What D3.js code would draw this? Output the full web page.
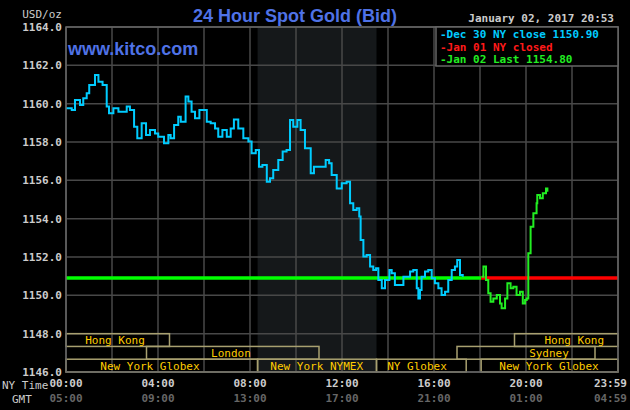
<!DOCTYPE html>
<html><head><meta charset="utf-8">
<script src="https://cdn.jsdelivr.net/npm/d3@7"></script>
<style>
body{margin:0;background:#000;}
text{font-family:"DejaVu Sans Mono",monospace;}
</style></head>
<body><div id="chart"></div>
<script>
// blue: Dec 30 trace (hour, price)
const blueHours = [0.0,0.25,0.39,0.61,0.75,0.90,1.01,1.12,1.26,1.41,1.59,1.77,1.87,2.06,2.28,2.49,2.64,2.78,2.96,3.10,3.29,3.48,3.65,3.87,4.01,4.26,4.45,4.55,4.70,4.88,4.99,5.20,5.32,5.46,5.61,5.80,6.12,6.29,6.48,6.62,6.80,6.99,7.16,7.30,7.49,7.71,7.93,8.07,8.25,8.39,8.54,8.73,8.87,9.01,9.23,9.42,9.59,9.74,9.88,10.06,10.20,10.39,10.54,10.64,10.78,11.04,11.29,11.44,11.55,11.77,11.99,12.20,12.35,12.49,12.64,12.75,12.81,12.93,13.07,13.22,13.36,13.48,13.58,13.73,13.87,14.06,14.16,14.30,14.52,14.67,14.81,14.96,15.10,15.25,15.32,15.39,15.46,15.61,15.75,15.90,16.04,16.19,16.33,16.48,16.62,16.77,16.91,17.01,17.13,17.25];
const bluePrices = [1159.76,1159.67,1160.19,1159.93,1160.28,1160.54,1160.98,1160.98,1161.50,1161.15,1160.98,1159.85,1159.50,1159.76,1159.58,1159.58,1159.85,1159.67,1158.80,1158.19,1158.98,1158.37,1158.63,1158.45,1158.28,1157.93,1158.37,1158.19,1158.89,1159.32,1159.06,1160.37,1160.11,1159.58,1159.24,1159.67,1159.06,1158.98,1158.71,1158.28,1158.63,1158.28,1158.71,1159.18,1158.71,1158.19,1158.02,1157.41,1157.58,1156.71,1156.80,1155.93,1156.11,1156.54,1157.06,1157.50,1157.58,1159.15,1158.80,1159.15,1158.63,1157.67,1157.67,1156.37,1156.71,1156.71,1157.06,1156.89,1156.28,1155.58,1155.85,1155.93,1154.80,1154.45,1154.54,1154.11,1152.89,1152.02,1152.11,1151.50,1151.32,1151.41,1150.80,1150.37,1150.80,1151.32,1151.15,1150.54,1150.54,1150.97,1150.97,1151.24,1151.32,1150.37,1149.84,1150.28,1150.97,1151.24,1151.32,1150.89,1150.63,1150.37,1150.02,1150.19,1150.80,1151.32,1151.50,1151.84,1151.06,1150.97];
// green: Jan 02 trace
const greenHours = [18.07,18.15,18.26,18.36,18.46,18.58,18.73,18.87,18.94,19.09,19.19,19.33,19.45,19.59,19.74,19.86,19.96,20.03,20.10,20.20,20.32,20.46,20.49,20.61,20.73,20.87,20.93];
const greenPrices = [1150.97,1151.50,1150.80,1150.11,1149.67,1149.84,1150.02,1149.58,1149.32,1149.84,1150.63,1150.37,1150.45,1150.02,1150.19,1149.58,1149.76,1149.84,1152.19,1153.58,1154.28,1154.80,1155.24,1155.06,1155.32,1155.58,1155.41];
const closePrice = 1150.90;
const yTicks = [1146,1148,1150,1152,1154,1156,1158,1160,1162,1164];
const nyLabels = ["00:00","04:00","08:00","12:00","16:00","20:00","23:59"];
const gmtLabels = ["05:00","09:00","13:00","17:00","21:00","01:00","04:59"];
const labelHours = [0,4,8,12,16,20,24];
// sessions: name, row, start, end, label hour
const sessions = [
  {name:"Hong Kong", row:0, start:0, end:4.5, lab:2.13},
  {name:"Hong Kong", row:0, start:19.5, end:24, lab:22.1},
  {name:"London", row:1, start:3.5, end:11, lab:7.17},
  {name:"Sydney", row:1, start:17, end:23, lab:21.0},
  {name:"New York Globex", row:2, start:0, end:8.33, lab:3.65},
  {name:"New York NYMEX", row:2, start:8.33, end:13.5, lab:10.9},
  {name:"NY Globex", row:2, start:13.5, end:17.4, lab:15.26},
  {name:"New York Globex", row:2, start:18.05, end:24, lab:21.0}
];
const legendItems = [
  {text:"Dec 30 NY close 1150.90", color:"#00ccff"},
  {text:"Jan 01 NY closed", color:"#ff1a1a"},
  {text:"Jan 02 Last 1154.80", color:"#22ee22"}
];

const W = 630, H = 410;
const m = {left:66, right:12, top:27, bottom:38};
const svg = d3.select("#chart").append("svg").attr("width",W).attr("height",H)
  .style("background","#000");
const x = d3.scaleLinear().domain([0,24]).range([m.left, W-m.right]);
const y = d3.scaleLinear().domain([1146,1164]).range([H-m.bottom, m.top]);

// NYMEX shading
svg.append("rect").attr("x",x(8.33)).attr("y",m.top)
  .attr("width",x(13.5)-x(8.33)).attr("height",y(1146)-m.top).attr("fill","#15181a");

// grid
const g = svg.append("g").attr("stroke","#484848").attr("stroke-width",1.5);
g.selectAll(".v").data(d3.range(0,25,2)).join("line")
  .attr("x1",d=>x(d)).attr("x2",d=>x(d)).attr("y1",m.top).attr("y2",y(1146));
g.selectAll(".h").data(yTicks).join("line")
  .attr("x1",m.left).attr("x2",x(24)).attr("y1",d=>y(d)).attr("y2",d=>y(d));

// y labels
svg.selectAll(".yl").data(yTicks).join("text")
  .attr("x",m.left-4).attr("y",d=>y(d)+4).attr("text-anchor","end")
  .attr("fill","#cccccc").attr("font-size",11).attr("font-weight","bold")
  .text(d=>d.toFixed(1));
svg.append("text").attr("x",m.left-4).attr("y",18).attr("text-anchor","end")
  .attr("fill","#cccccc").attr("font-size",11).text("USD/oz");

// x labels (last one anchored at its end so it stays inside)
const anch = i => i === labelHours.length-1 ? "end" : "middle";
const lx = i => i === labelHours.length-1 ? W-3 : x(labelHours[i]);
svg.selectAll(".xl").data(nyLabels).join("text")
  .attr("x",(d,i)=>lx(i)).attr("y",387).attr("text-anchor",(d,i)=>anch(i))
  .attr("fill","#cccccc").attr("font-size",11).attr("font-weight","bold").text(d=>d);
svg.selectAll(".gl").data(gmtLabels).join("text")
  .attr("x",(d,i)=>lx(i)).attr("y",402).attr("text-anchor",(d,i)=>anch(i))
  .attr("fill","#666666").attr("font-size",11).attr("font-weight","bold").text(d=>d);
svg.append("text").attr("x",2).attr("y",389).attr("fill","#cccccc").attr("font-size",11).text("NY Time");
svg.append("text").attr("x",12).attr("y",403).attr("fill","#cccccc").attr("font-size",11).text("GMT");

// sessions
const rowH = (y(1146)-y(1148))/3;
const sg = svg.append("g");
sg.selectAll("rect").data(sessions).join("rect")
  .attr("x",d=>x(d.start)).attr("y",d=>y(1148)+d.row*rowH)
  .attr("width",d=>x(d.end)-x(d.start)).attr("height",rowH)
  .attr("fill","none").attr("stroke","#a8a070").attr("stroke-width",1.5);
sg.selectAll("text").data(sessions).join("text")
  .attr("x",d=>x(d.lab)).attr("y",d=>y(1148)+d.row*rowH+rowH-2.5)
  .attr("text-anchor","middle").attr("fill","#ffcc00").attr("font-size",11).text(d=>d.name);

// close lines
svg.append("line").attr("x1",x(0)).attr("x2",x(18.05)).attr("y1",y(closePrice)).attr("y2",y(closePrice))
  .attr("stroke","#00ff00").attr("stroke-width",3.5);
svg.append("line").attr("x1",x(18.05)).attr("x2",x(24)).attr("y1",y(closePrice)).attr("y2",y(closePrice))
  .attr("stroke","#ff0000").attr("stroke-width",3.5);

// traces
const line = d3.line().x(d=>x(d[0])).y(d=>y(d[1])).curve(d3.curveStepAfter);
svg.append("path").datum(d3.zip(blueHours,bluePrices)).attr("d",line)
  .attr("fill","none").attr("stroke","#00ccff").attr("stroke-width",2);
svg.append("path").datum(d3.zip(greenHours,greenPrices)).attr("d",line)
  .attr("fill","none").attr("stroke","#22ee22").attr("stroke-width",2);

// plot frame
svg.append("rect").attr("x",m.left).attr("y",m.top).attr("width",x(24)-m.left).attr("height",y(1146)-m.top)
  .attr("fill","none").attr("stroke","#666").attr("stroke-width",1.5);

// legend
const lg = svg.append("g");
lg.append("rect").attr("x",436).attr("y",m.top).attr("width",x(24)-436).attr("height",39)
  .attr("fill","#000").attr("stroke","#666").attr("stroke-width",1.5);
lg.selectAll("text").data(legendItems).join("text")
  .attr("x",440).attr("y",(d,i)=>38+i*12.5).attr("fill",d=>d.color)
  .attr("font-size",11).attr("font-weight","bold").text(d=>"-"+d.text);

// titles
svg.append("text").attr("x",614).attr("y",22).attr("text-anchor","end")
  .attr("fill","#cccccc").attr("font-size",11).attr("font-weight","bold").text("January 02, 2017 20:53");
svg.append("text").attr("x",295).attr("y",22).attr("text-anchor","middle")
  .attr("fill","#4f72e6").attr("font-size",18).attr("font-weight","bold").style("font-family","Liberation Sans, Arial")
  .text("24 Hour Spot Gold (Bid)");
svg.append("text").attr("x",68).attr("y",55)
  .attr("fill","#4f72e6").attr("font-size",18).attr("font-weight","bold").style("font-family","Liberation Sans, Arial")
  .text("www.kitco.com");
</script></body></html>
